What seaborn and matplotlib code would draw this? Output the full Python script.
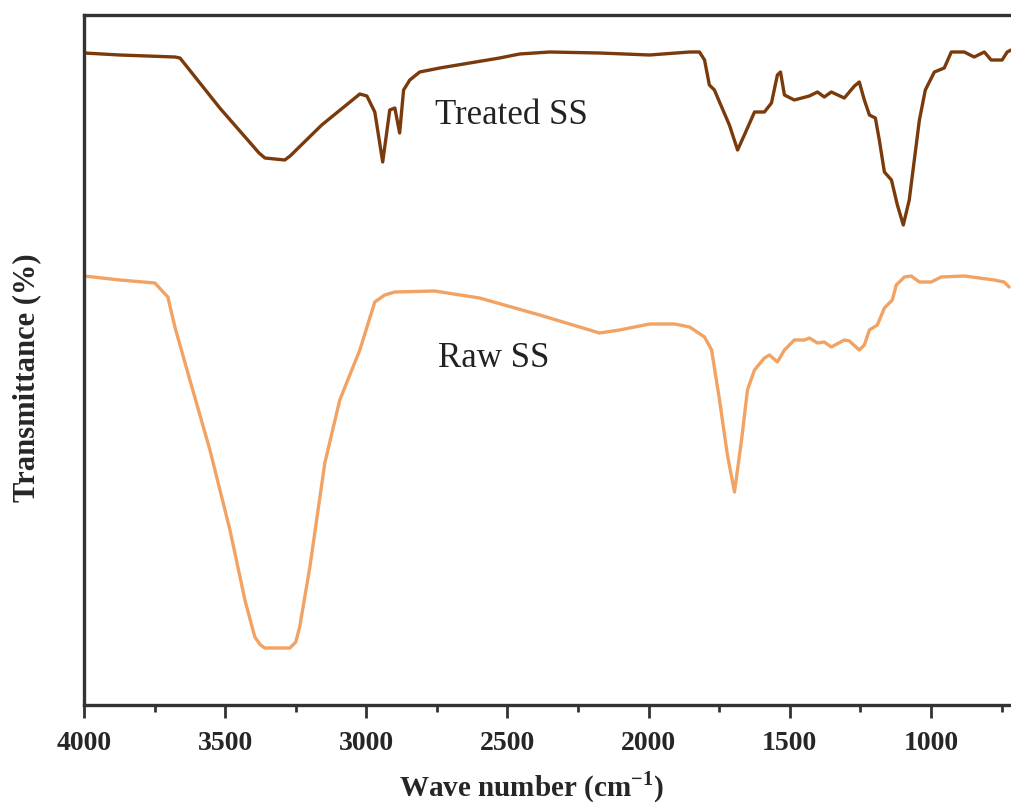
import numpy as np
import pandas as pd
import matplotlib
matplotlib.use("Agg")
import matplotlib.pyplot as plt
from matplotlib.ticker import MultipleLocator
import seaborn as sns

# FTIR spectra (transmittance in arbitrary units, 0 = frame bottom)
treated_wn = [4000, 3873, 3678, 3660, 3519, 3380, 3359, 3289, 3270, 3158, 3023, 2998, 2970, 2942,
              2917, 2899, 2882, 2868, 2846, 2811, 2740, 2528, 2457, 2351, 2174, 1997,
              1855, 1820, 1802, 1785, 1767, 1749, 1714, 1685, 1661, 1625, 1590, 1565,
              1544, 1533, 1519, 1484, 1431, 1402, 1378, 1353, 1307, 1271, 1254, 1236,
              1218, 1197, 1183, 1165, 1140, 1119, 1098, 1077, 1059, 1041, 1020, 988,
              953, 928, 882, 847, 811, 787, 748, 730, 716]
treated_t = [652, 650, 648, 647, 597, 552, 547, 545, 549, 580, 611, 609, 593, 543,
             595, 597, 572, 615, 625, 633, 637, 647, 651, 653, 652, 650,
             653, 653, 645, 620, 615, 603, 580, 555, 570, 593, 593, 602,
             630, 633, 610, 605, 609, 613, 608, 613, 607, 619, 623, 605,
             590, 587, 565, 533, 525, 500, 480, 505, 545, 585, 615, 633,
             637, 653, 653, 648, 653, 645, 645, 653, 655]

raw_wn = [4000, 3873, 3749, 3703, 3678, 3625, 3554, 3483, 3430, 3395, 3375, 3359, 3271,
          3250, 3236, 3200, 3147, 3094, 3023, 2970, 2935, 2899, 2758, 2599, 2386, 2174, 2103,
          2032, 1997, 1908, 1855, 1802, 1777, 1749, 1721, 1696, 1671, 1650, 1625,
          1590, 1572, 1544, 1519, 1484, 1448, 1431, 1402, 1378, 1353, 1307, 1289,
          1254, 1236, 1218, 1190, 1165, 1137, 1123, 1094, 1070, 1041, 999, 964,
          882, 829, 776, 741, 723]
raw_t = [429, 425, 422, 408, 378, 325, 255, 175, 105, 68, 60, 57, 57,
         63, 78, 138, 242, 305, 355, 403, 410, 413, 414, 407, 390, 372, 375,
         379, 381, 381, 378, 368, 355, 305, 250, 213, 265, 315, 335,
         347, 350, 343, 355, 365, 365, 367, 362, 363, 358, 365, 364,
         355, 360, 375, 380, 397, 405, 420, 428, 429, 423, 423, 428,
         429, 427, 425, 423, 418]

series_names = ["Treated SS", "Raw SS"]
colors = {"Treated SS": "#7a3a0c", "Raw SS": "#f2a262"}

df = pd.concat([
    pd.DataFrame({"wn": treated_wn, "t": treated_t, "sample": "Treated SS"}),
    pd.DataFrame({"wn": raw_wn, "t": raw_t, "sample": "Raw SS"}),
])

sns.set_style("ticks")
plt.rcParams["font.family"] = ["Liberation Serif", "DejaVu Serif"]
plt.rcParams["mathtext.fontset"] = "custom"
plt.rcParams["mathtext.rm"] = "Liberation Serif"
plt.rcParams["mathtext.bf"] = "Liberation Serif:bold"

fig = plt.figure(figsize=(10.12, 8.05), dpi=100)
ax = fig.add_axes([84 / 1012, 100 / 805, 928 / 1012, 690 / 805])

sns.lineplot(data=df, x="wn", y="t", hue="sample", palette=colors,
             hue_order=series_names, linewidth=2.4, legend=False, ax=ax,
             estimator=None, sort=False)

ax.set_xlim(4000, 713)
ax.set_ylim(0, 690)
ax.set_yticks([])
ax.xaxis.set_major_locator(MultipleLocator(500))
ax.xaxis.set_minor_locator(MultipleLocator(250))
ax.tick_params(axis="x", which="major", direction="out", length=9, width=2,
               color="#333333", labelsize=20, pad=10)
ax.tick_params(axis="x", which="minor", direction="out", length=5, width=2,
               color="#333333")
for lab in ax.get_xticklabels():
    lab.set_fontweight("bold")

for side in ["left", "bottom", "top"]:
    ax.spines[side].set_visible(True)
    ax.spines[side].set_linewidth(2.4)
    ax.spines[side].set_color("#333333")
ax.spines["right"].set_visible(False)

ax.set_xlabel("Wave number (cm$^{\\mathbf{-1}}$)", fontsize=21, fontweight="bold")
ax.xaxis.set_label_coords(0.482, -0.094)
ax.set_ylabel("Transmittance (%)", fontsize=22, fontweight="bold")
ax.yaxis.set_label_coords(-0.046, 0.475)

ax.text(2758, 590, "Treated SS", fontsize=25, ha="left", va="center", color="#222222")
ax.text(2747, 347, "Raw SS", fontsize=25, ha="left", va="center", color="#222222")

fig.savefig("out.png", dpi=100, facecolor="white")
